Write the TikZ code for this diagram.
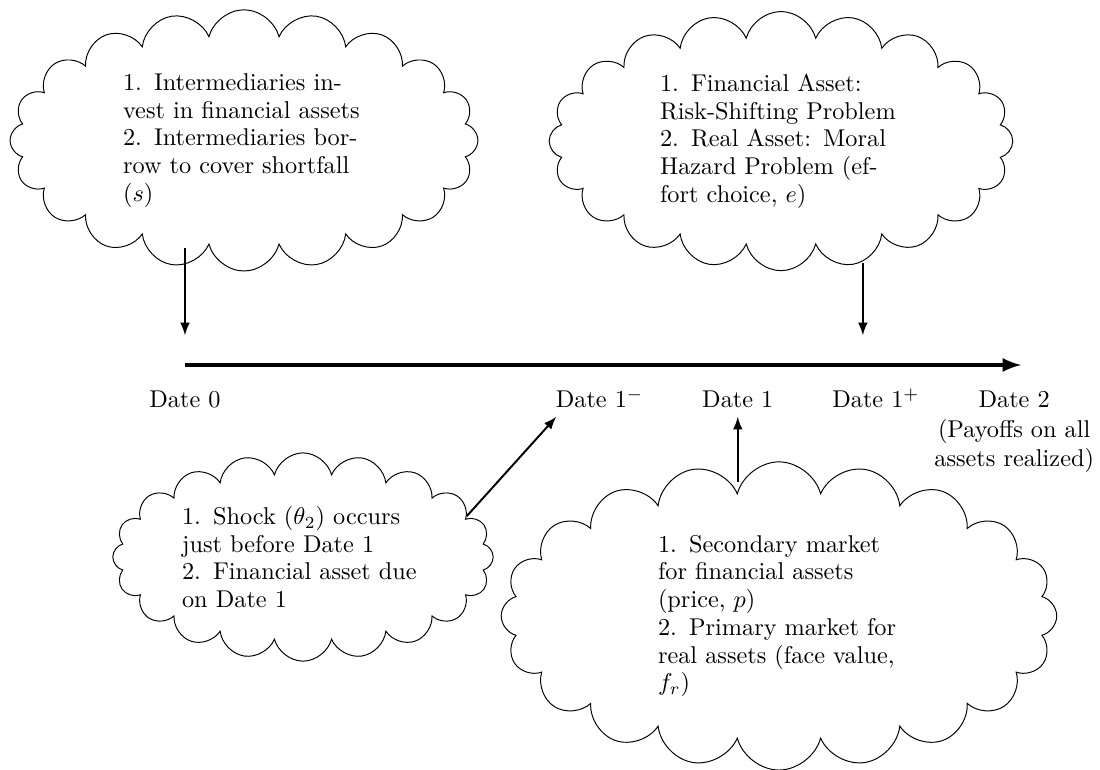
\documentclass[tikz,border=0pt]{standalone}
\usepackage{tikz}
\usetikzlibrary{shapes.symbols}
\tikzstyle{bubble}=[cloud,cloud puffs=20,cloud ignores aspect,draw,text width=3.5cm,align=left,font=\linespread{0.95}\selectfont]
\tikzstyle{date}=[anchor=base]
\tikzstyle{event}=[-latex,thick]

\begin{document}
\begin{tikzpicture}
  \useasboundingbox (-2.677,-5.847) rectangle (13.242,5.282);
  \def\dy{-0.622}

  % time line
  \coordinate (start) at (0,0);
  \coordinate (end) at (12.1,0);
  \draw[-latex,ultra thick] (start) -- (end);

  \node[date] (date 0) at (0,\dy) {Date 0};
  \node[date] (date 1 minus) at (6,\dy) {Date $1^-$};
  \node[date] (date 1) at (8,\dy) {Date 1};
  \node[date] (date 1 plus) at (10,\dy) {Date $1^+$};
  \node[date,text width=2.55cm,align=center] (date 2) at (12,\dy)
    {Date 2\\ (Payoffs on all assets realized)};

  % what happens when
  \node[bubble,minimum width=6.77cm,minimum height=3.78cm] (invest) at
    (0.854,3.25) {1. Intermediaries invest in financial assets\\
    2. Intermediaries borrow to cover shortfall ($s$)};
  \node[bubble,minimum width=6.71cm,minimum height=3.75cm] (choice) at
    (8.625,3.24) {1. Financial Asset: Risk-Shifting Problem\\
    2. Real Asset: Moral Hazard Problem (effort choice, $e$)};
  \node[bubble,minimum width=5.35cm,minimum height=2.95cm] (shock) at
    (1.708,-2.779) {1. Shock ($\theta_2$) occurs just before Date 1\\
    2. Financial asset due on Date 1};
  \node[bubble,minimum width=8.04cm,minimum height=4.46cm] (market) at
    (8.596,-3.632) {1. Secondary market for financial assets (price, $p$)\\
    2. Primary market for real assets (face value, $f_r$)};

  \coordinate (invest foot) at (0,1.69);
  \coordinate (date 0 top) at (0,0.43);
  \coordinate (choice foot) at (9.81,1.48);
  \coordinate (date 1 plus top) at (9.81,0.43);
  \coordinate (market top) at (8,-1.69);

  \draw[event] (invest foot) -- (date 0 top);
  \draw[event] (choice foot) -- (date 1 plus top);
  \draw[event] (shock.14) -- (date 1 minus.203);
  \draw[event] (market top) -- (date 1.south);
\end{tikzpicture}
\end{document}
